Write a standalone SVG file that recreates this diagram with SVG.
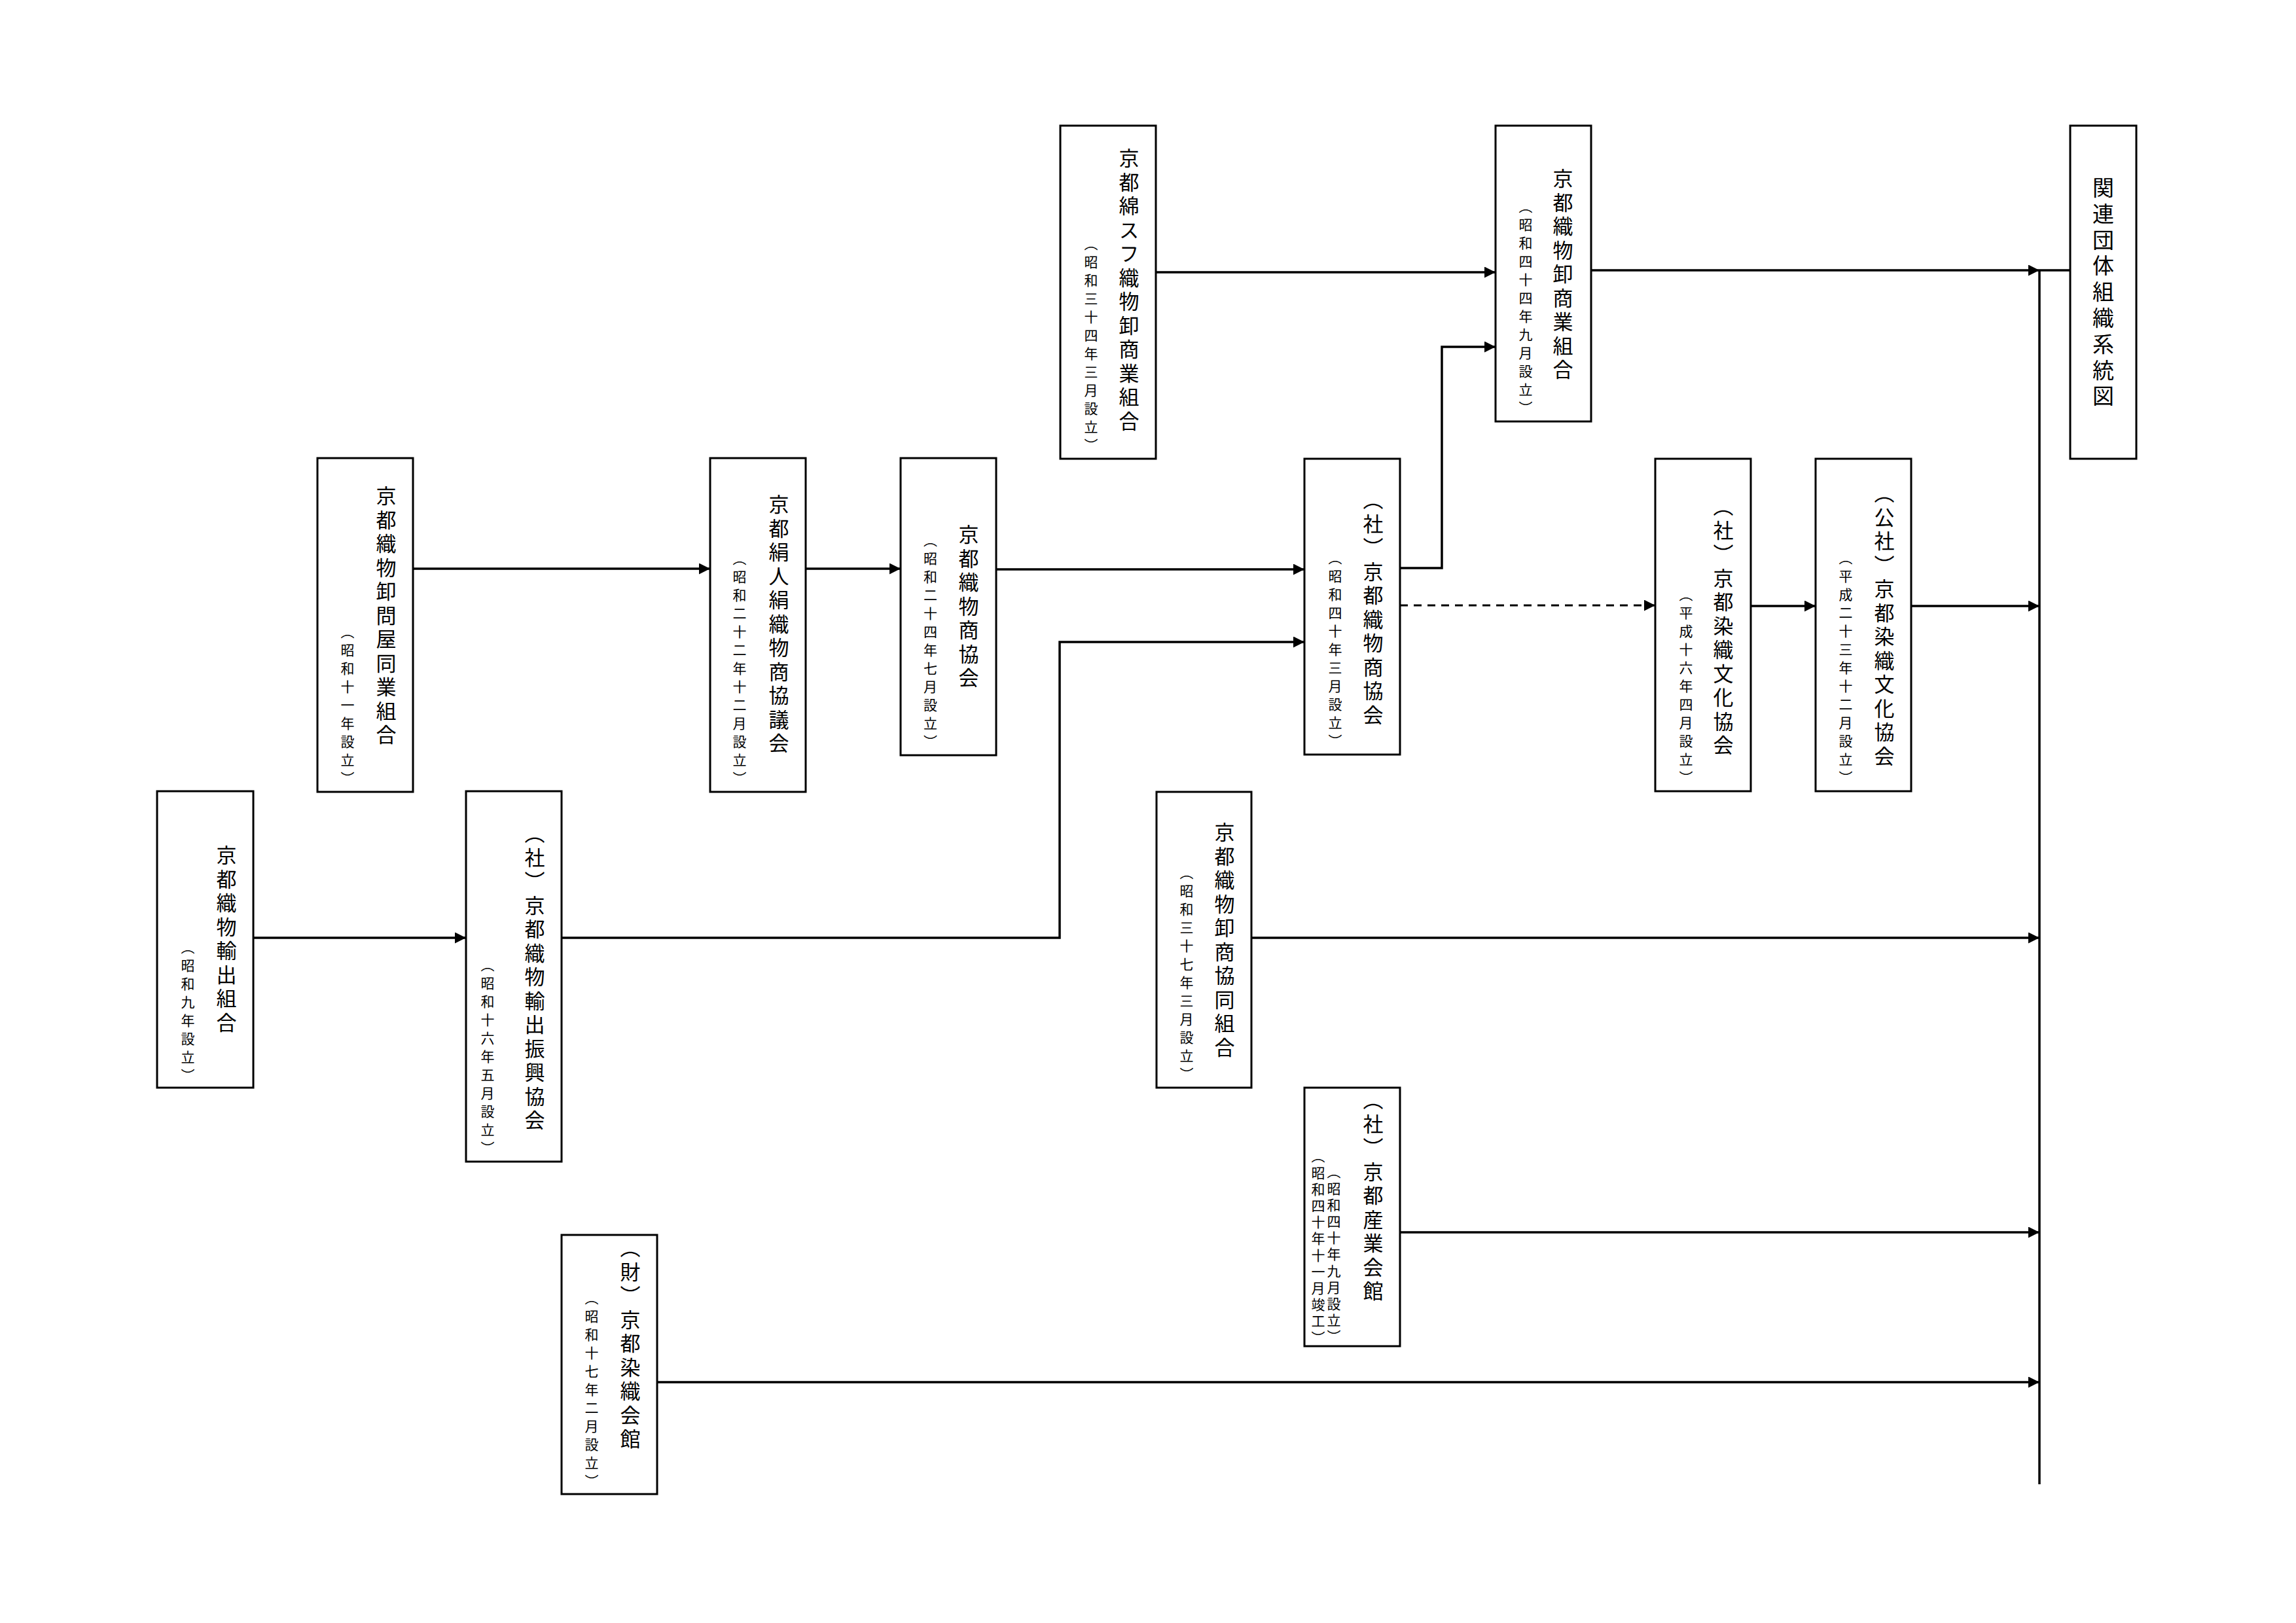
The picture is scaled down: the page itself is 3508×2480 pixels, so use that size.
<svg xmlns="http://www.w3.org/2000/svg" width="3508" height="2480" viewBox="0 0 3508 2480">
<style>
.bx{fill:#fff;stroke:#000;stroke-width:3}
.m{font-family:"Noto Sans CJK JP","Noto Sans CJK SC",sans-serif;font-size:31px;letter-spacing:5.5px;writing-mode:vertical-rl;fill:#000}
.s{font-family:"Noto Sans CJK JP","Noto Sans CJK SC",sans-serif;font-size:21px;letter-spacing:7px;writing-mode:vertical-rl;fill:#000}
.s2{letter-spacing:4.2px}
.t{font-family:"Noto Sans CJK JP","Noto Sans CJK SC",sans-serif;font-size:33px;letter-spacing:6.8px;writing-mode:vertical-rl;fill:#000}
.ln{fill:none;stroke:#000;stroke-width:3.5}
.ar{marker-end:url(#arr)}
.dash{stroke-dasharray:12 9;stroke-width:3}
</style>
<defs>
<marker id="arr" markerUnits="userSpaceOnUse" markerWidth="17" markerHeight="17" refX="17" refY="8.5" orient="auto">
<path d="M0,0 L17,8.5 L0,17 Z" fill="#000"/>
</marker>
</defs>
<rect width="3508" height="2480" fill="#fff"/>

<g id="connectors">
<path class="ln ar" d="M631,869 H1085"/>
<path class="ln ar" d="M1231,869 H1376"/>
<path class="ln ar" d="M1522,870 H1993"/>
<path class="ln ar" d="M387,1433 H712"/>
<path class="ln ar" d="M858,1433 H1619 V981 H1993"/>
<path class="ln ar" d="M2139,868 H2203 V530 H2285"/>
<path class="ln ar" d="M1766,416 H2285"/>
<path class="ln ar" d="M2431,413 H3116"/>
<path class="ln" d="M3116,413 H3163"/>
<path class="ln dash ar" d="M2139,925 H2529"/>
<path class="ln ar" d="M2675,926 H2774"/>
<path class="ln ar" d="M2920,926 H3116"/>
<path class="ln ar" d="M1912,1433 H3116"/>
<path class="ln ar" d="M2139,1883 H3116"/>
<path class="ln ar" d="M1004,2112 H3116"/>
<path class="ln" d="M3116,413 V2268"/>
</g>

<g id="n-yushutsu-kumiai">
<rect class="bx" x="240" y="1209" width="147" height="453"/>
<text class="m" x="346" y="1291">京都織物輸出組合</text>
<text class="s" x="287" y="1437">（昭和九年設立）</text>
</g>

<g id="n-oroshi-donya">
<rect class="bx" x="485" y="700" width="146" height="510"/>
<text class="m" x="590" y="742">京都織物卸問屋同業組合</text>
<text class="s" x="531" y="955">（昭和十一年設立）</text>
</g>

<g id="n-yushutsu-shinko">
<rect class="bx" x="712" y="1209" width="146" height="566"/>
<text class="m" x="817" y="1258">（社）京都織物輸出振興協会</text>
<text class="s" x="745" y="1464">（昭和十六年五月設立）</text>
</g>

<g id="n-kinu-jinken">
<rect class="bx" x="1085" y="700" width="146" height="510"/>
<text class="m" x="1190" y="755">京都絹人絹織物商協議会</text>
<text class="s" x="1130" y="843">（昭和二十二年十二月設立）</text>
</g>

<g id="n-orimono-shokyokai">
<rect class="bx" x="1376" y="700" width="146" height="454"/>
<text class="m" x="1480" y="801">京都織物商協会</text>
<text class="s" x="1421.5" y="815">（昭和二十四年七月設立）</text>
</g>

<g id="n-mensufu">
<rect class="bx" x="1620" y="192" width="146" height="509"/>
<text class="m" x="1725" y="226">京都綿スフ織物卸商業組合</text>
<text class="s" x="1667" y="362">（昭和三十四年三月設立）</text>
</g>

<g id="n-oroshisho-kyodo">
<rect class="bx" x="1767" y="1210" width="145" height="452"/>
<text class="m" x="1871" y="1256">京都織物卸商協同組合</text>
<text class="s" x="1813" y="1323">（昭和三十七年三月設立）</text>
</g>

<g id="n-sha-orimono-shokyokai">
<rect class="bx" x="1993" y="701" width="146" height="452"/>
<text class="m" x="2098" y="748">（社）京都織物商協会</text>
<text class="s" x="2040" y="842">（昭和四十年三月設立）</text>
</g>

<g id="n-sangyo-kaikan">
<rect class="bx" x="1993" y="1662" width="146" height="395"/>
<text class="m" x="2098" y="1665">（社）京都産業会館</text>
<text class="s s2" x="2038" y="1780">（昭和四十年九月設立）</text>
<text class="s s2" x="2014" y="1756">（昭和四十年十一月竣工）</text>
</g>

<g id="n-oroshi-shogyo">
<rect class="bx" x="2285" y="192" width="146" height="452"/>
<text class="m" x="2388" y="257">京都織物卸商業組合</text>
<text class="s" x="2331" y="305">（昭和四十四年九月設立）</text>
</g>

<g id="n-senshoku-bunka">
<rect class="bx" x="2529" y="701" width="146" height="508"/>
<text class="m" x="2633" y="758">（社）京都染織文化協会</text>
<text class="s" x="2576" y="898">（平成十六年四月設立）</text>
</g>

<g id="n-koeki-senshoku-bunka">
<rect class="bx" x="2774" y="701" width="146" height="508"/>
<text class="m" x="2879" y="738">（公社）京都染織文化協会</text>
<text class="s" x="2820" y="842">（平成二十三年十二月設立）</text>
</g>

<g id="n-senshoku-kaikan">
<rect class="bx" x="858" y="1887" width="146" height="396"/>
<text class="m" x="963" y="1891">（財）京都染織会館</text>
<text class="s" x="904" y="1973">（昭和十七年二月設立）</text>
</g>

<g id="n-title">
<rect class="bx" x="3163" y="192" width="101" height="509"/>
<text class="t" x="3213.5" y="270">関連団体組織系統図</text>
</g>
</svg>
